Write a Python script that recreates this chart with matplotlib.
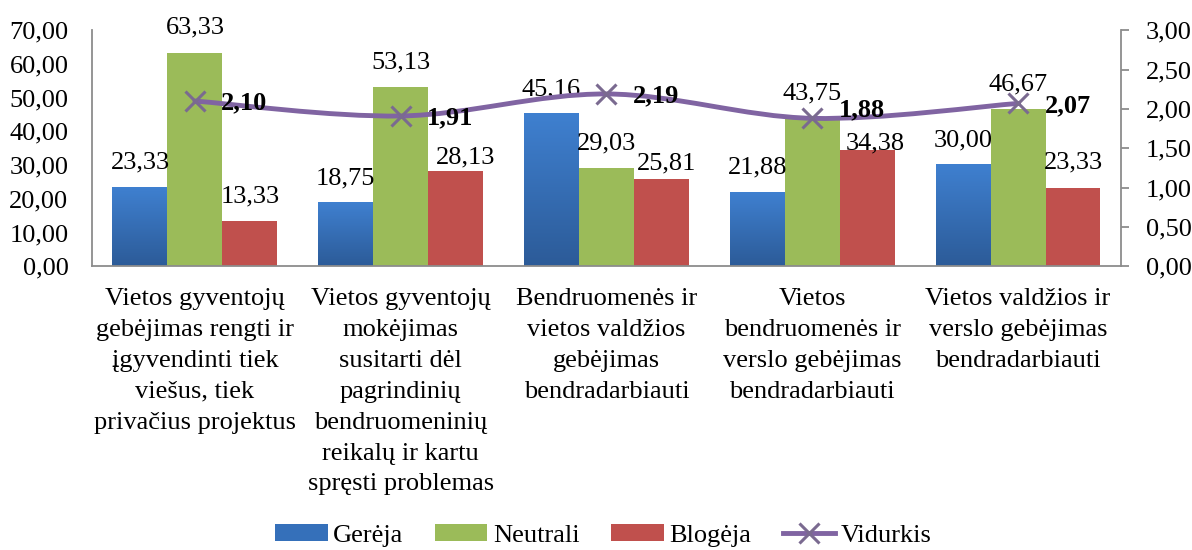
import matplotlib
matplotlib.use("Agg")
import matplotlib.pyplot as plt
import numpy as np
from matplotlib.colors import LinearSegmentedColormap
from matplotlib.patches import Patch, PathPatch
from matplotlib.path import Path
from matplotlib.lines import Line2D

categories = [
    "Vietos gyventojų\ngebėjimas rengti ir\nįgyvendinti tiek\nviešus, tiek\nprivačius projektus",
    "Vietos gyventojų\nmokėjimas\nsusitarti dėl\npagrindinių\nbendruomeninių\nreikalų ir kartu\nspręsti problemas",
    "Bendruomenės ir\nvietos valdžios\ngebėjimas\nbendradarbiauti",
    "Vietos\nbendruomenės ir\nverslo gebėjimas\nbendradarbiauti",
    "Vietos valdžios ir\nverslo gebėjimas\nbendradarbiauti",
]
gereja = [23.33, 18.75, 45.16, 21.88, 30.00]
neutrali = [63.33, 53.13, 29.03, 43.75, 46.67]
blogeja = [13.33, 28.13, 25.81, 34.38, 23.33]
vidurkis = [2.10, 1.91, 2.19, 1.88, 2.07]
left_ticks = [0, 10, 20, 30, 40, 50, 60, 70]
right_ticks = [0, 0.5, 1.0, 1.5, 2.0, 2.5, 3.0]

# hand-moved labels in the original (offsets in points)
red_label_nudge = {1: (7, -8), 2: (3.5, -6.5), 3: (6, -13)}
mean_label_nudge = {3: (0, 7.5)}

FS = 19
plt.rcParams["font.family"] = ["Liberation Serif", "DejaVu Serif"]
plt.rcParams["font.size"] = FS

BLUE_TOP, BLUE_BOT = "#3f80d0", "#2c5b98"
GREEN = "#9bbb59"
RED = "#c0504d"
PURPLE = "#8064a2"
MARK = "#7a6a90"
AXC = "#8c8c8c"


def fmt(v):
    return f"{v:.2f}".replace(".", ",")


def smooth_path(xs, ys):
    # Excel-style smoothed line: cubic Bezier through points
    pts = np.column_stack([xs, ys]).astype(float)
    n = len(pts)
    verts = [pts[0]]
    codes = [Path.MOVETO]
    for i in range(n - 1):
        p0 = pts[max(i - 1, 0)]
        p1, p2 = pts[i], pts[i + 1]
        p3 = pts[min(i + 2, n - 1)]
        verts += [p1 + (p2 - p0) / 6, p2 - (p3 - p1) / 6, p2]
        codes += [Path.CURVE4] * 3
    return Path(verts, codes)


fig = plt.figure(figsize=(11.92, 5.5), dpi=100)
ax = fig.add_axes([0.0772, 0.516, 0.8632, 0.429])
x = np.arange(len(categories))
w = 0.267

blue_cmap = LinearSegmentedColormap.from_list("b", [BLUE_BOT, BLUE_TOP])
grad = np.linspace(0, 1, 256).reshape(-1, 1)
bars_b = ax.bar(x - w, gereja, w, color=BLUE_TOP, zorder=2)
for b in bars_b:
    x0, h = b.get_x(), b.get_height()
    ax.imshow(grad, extent=[x0, x0 + w, 0, h], origin="lower",
              aspect="auto", cmap=blue_cmap, zorder=2.1)
ax.bar(x, neutrali, w, color=GREEN, zorder=2)
ax.bar(x + w, blogeja, w, color=RED, zorder=2)

for k, (off, vals) in enumerate([(-w, gereja), (0, neutrali), (w, blogeja)]):
    for i, (xi, v) in enumerate(zip(x, vals)):
        dx, dy = red_label_nudge.get(i, (0, 0)) if k == 2 else (0, 0)
        ax.annotate(fmt(v), (xi + off, v), xytext=(dx, 10 + dy), textcoords="offset points",
                    ha="center", va="bottom", fontsize=FS, zorder=7)

ax.set_xlim(-0.5, len(categories) - 0.5)
ax.set_ylim(0, 70)
ax.set_yticks(left_ticks)
ax.set_yticklabels([fmt(t) for t in left_ticks])
ax.tick_params(axis="y", length=0, pad=17)
ax.set_xticks(x)
ax.set_xticklabels(categories, linespacing=1.52)
ax.tick_params(axis="x", length=0, pad=16)
for s in ["top", "right"]:
    ax.spines[s].set_visible(False)
for s in ["left", "bottom"]:
    ax.spines[s].set_color(AXC)
    ax.spines[s].set_linewidth(1.3)

ax2 = ax.twinx()
ax2.add_patch(PathPatch(smooth_path(x, vidurkis), fill=False, edgecolor=PURPLE,
                        lw=3.5, zorder=5, capstyle="round"))
ax2.plot(x, vidurkis, ls="none", marker="x", ms=14, mew=2.2, color=MARK, zorder=6)
for i, (xi, v) in enumerate(zip(x, vidurkis)):
    dx, dy = mean_label_nudge.get(i, (0, 0))
    ax2.annotate(fmt(v), (xi, v), xytext=(19 + dx, -1.5 + dy), textcoords="offset points",
                 ha="left", va="center", fontsize=FS, fontweight="bold", zorder=8)
ax2.set_ylim(0, 3)
ax2.set_yticks(right_ticks)
ax2.set_yticklabels([fmt(t) for t in right_ticks])
ax2.tick_params(axis="y", length=6, color=AXC, width=1.3, pad=12)
for s in ["top", "left", "bottom"]:
    ax2.spines[s].set_visible(False)
ax2.spines["right"].set_color(AXC)
ax2.spines["right"].set_linewidth(1.3)

handles = [
    Patch(facecolor="#3570ba", label="Gerėja"),
    Patch(facecolor=GREEN, label="Neutrali"),
    Patch(facecolor=RED, label="Blogėja"),
    Line2D([], [], color=PURPLE, lw=3.5, marker="x", ms=14, mew=2.2,
           markeredgecolor=MARK, label="Vidurkis"),
]
fig.legend(handles=handles, loc="center", bbox_to_anchor=(0.506, 0.026),
           ncol=4, frameon=False, fontsize=FS, handlelength=2.0,
           handleheight=0.6, handletextpad=0.2, columnspacing=1.2)

fig.savefig("out.png", dpi=100)
